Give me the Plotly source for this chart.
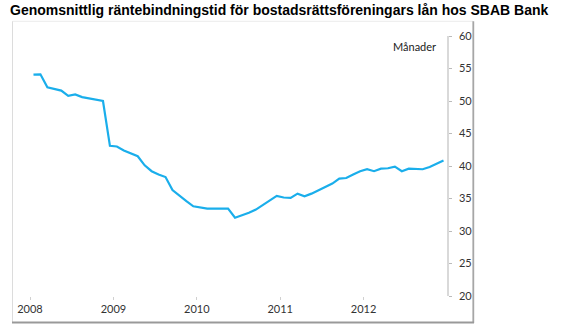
import plotly.graph_objects as go

# Monthly data Jan 2008 - Dec 2012 (months)
start_year = 2008
values = [
    54.05, 54.1, 52.1, 51.9, 51.6, 50.8, 51.0, 50.6, 50.4, 50.3, 50.0, 43.1,
    43.0, 42.4, 41.9, 41.5, 40.1, 39.2, 38.7, 38.3, 36.3, 35.4, 34.6, 33.8,
    33.6, 33.45, 33.45, 33.45, 33.45, 32.05, 32.4, 32.8, 33.3, 34.0, 34.6, 35.4,
    35.15, 35.1, 35.75, 35.35, 35.75, 36.25, 36.8, 37.3, 38.05, 38.15, 38.7, 39.2,
    39.5, 39.2, 39.6, 39.65, 39.9, 39.2, 39.6, 39.6, 39.5, 39.85, 40.4, 40.85,
]
x_vals = [start_year + (i + 0.5) / 12 for i in range(len(values))]
year_ticks = [2008, 2009, 2010, 2011, 2012]
year_labels = ["2008", "2009", "2010", "2011", "2012"]
y_ticks = [20, 25, 30, 35, 40, 45, 50, 55, 60]

title_text = "Genomsnittlig räntebindningstid för bostadsrättsföreningars lån hos SBAB Bank"
unit_text = "Månader"

W, H = 580, 332
L, R, T, B = 30, 133, 36, 36
pw, ph = W - L - R, H - T - B


def px(x):
    return (x - L) / pw


def py(y):
    return 1 - (y - T) / ph


fig = go.Figure()
fig.add_trace(go.Scatter(
    x=x_vals, y=values, mode="lines",
    line=dict(color="#1AAEEB", width=2.2),
    hoverinfo="skip", showlegend=False,
))

label_font = dict(family="Lato, Open Sans, sans-serif", size=11, color="#333333")

fig.update_layout(
    width=W, height=H,
    margin=dict(l=L, r=R, t=T, b=B),
    paper_bgcolor="white", plot_bgcolor="white",
    xaxis=dict(
        range=[2008, 2013], tickvals=year_ticks, ticktext=year_labels,
        showgrid=False, zeroline=False, showline=False,
        ticks="outside", ticklen=3, tickcolor="#d0d0d0", tickwidth=1,
        tickfont=label_font,
    ),
    yaxis=dict(
        range=[20, 60], tickvals=y_ticks, side="right",
        showgrid=False, zeroline=False, showline=True, linecolor="#d9d9d9", linewidth=1.5,
        ticks="outside", ticklen=3, tickcolor="#bbbbbb", tickwidth=1,
        tickfont=label_font, ticklabelstandoff=5,
    ),
    annotations=[
        dict(text="<b>" + title_text + "</b>", xref="paper", yref="paper",
             x=px(8), y=py(10), xanchor="left", yanchor="middle", showarrow=False,
             font=dict(family="Liberation Sans, Arial, sans-serif", size=14, color="#000000")),
        dict(text=unit_text, xref="paper", yref="paper",
             x=px(438), y=py(47), xanchor="right", yanchor="middle", showarrow=False,
             font=dict(family="Lato, Open Sans, sans-serif", size=11, color="#222222")),
    ],
    shapes=[
        # frame: light top/left, darker right/bottom
        dict(type="line", xref="paper", yref="paper", x0=px(12.5), x1=px(473), y0=py(21.3), y1=py(21.3),
             line=dict(color="#ececec", width=1)),
        dict(type="line", xref="paper", yref="paper", x0=px(12.5), x1=px(12.5), y0=py(21.3), y1=py(322),
             line=dict(color="#dcdcdc", width=1)),
        dict(type="line", xref="paper", yref="paper", x0=px(473.3), x1=px(473.3), y0=py(21.3), y1=py(323),
             line=dict(color="#a6a6a6", width=1.8)),
        dict(type="line", xref="paper", yref="paper", x0=px(12), x1=px(474), y0=py(322.5), y1=py(322.5),
             line=dict(color="#999999", width=2)),
    ],
)

fig.write_html("out.html")
